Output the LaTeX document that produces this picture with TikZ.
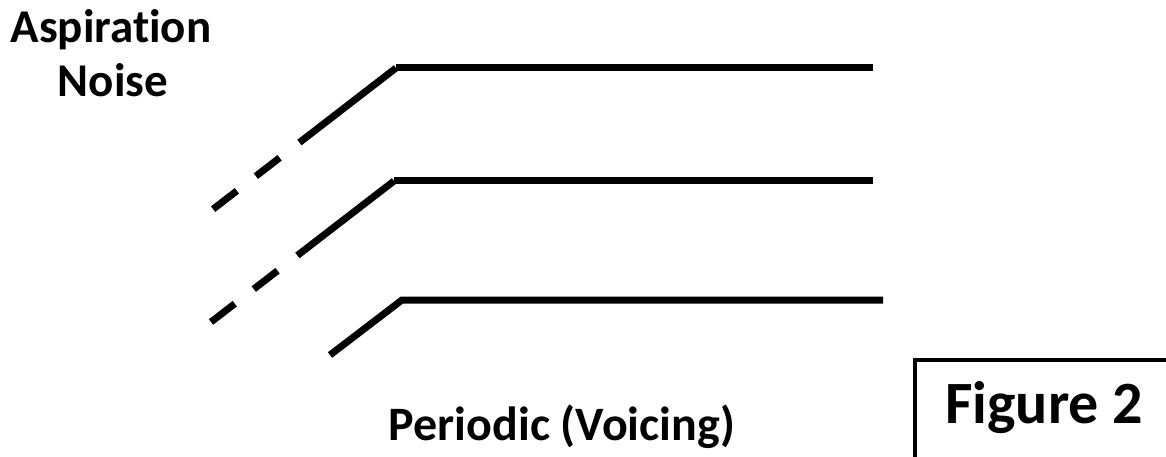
\documentclass[tikz,border=0pt]{standalone}
\usepackage{fontspec}
\setmainfont{Carlito}[Ligatures={NoCommon}]
\begin{document}
\begin{tikzpicture}[x=1pt,y=-1pt,
  stroke/.style={line width=7pt,line join=miter,line cap=butt},
  fade/.style={stroke,dash pattern=on 122pt off 25pt on 30pt off 24pt on 30pt},
  label/.style={font=\bfseries\fontsize{47}{54}\selectfont,inner sep=0pt},
  framebox/.style={draw,line width=4pt,inner sep=0pt}]
\useasboundingbox (0,0) rectangle (1166,457);
% corners and ends of the three traces
\coordinate (c1) at (396,68);  \coordinate (e1) at (873,68);  \coordinate (s1) at (212,210);
\coordinate (c2) at (394,181); \coordinate (e2) at (873,181); \coordinate (s2) at (211,322);
\coordinate (c3) at (402,300); \coordinate (e3) at (883,300); \coordinate (s3) at (330,355);
% upper two traces fade in with a dashed onset
\draw[stroke] (c1) -- (e1);
\draw[fade] (c1) -- (s1);
\draw[stroke] (c2) -- (e2);
\draw[fade] (c2) -- (s2);
% lowest trace rises without a gap
\draw[stroke] (s3) -- (c3) -- (e3);
% labels
\node[label,anchor=base] (asp) at (111,43) {Aspiration};
\node[label,anchor=base] (noise) at (113,97) {Noise};
\node[label,font=\bfseries\fontsize{48}{54}\selectfont,anchor=base] (per) at (562,440) {Periodic (Voicing)};
% caption frame
\draw[line width=4pt] (1175,360) -- (915,360) -- (915,465);
\node[font=\bfseries\fontsize{60}{64}\selectfont,anchor=base,inner sep=0pt] (fig) at (1044,423) {Figure 2};
\end{tikzpicture}
\end{document}
